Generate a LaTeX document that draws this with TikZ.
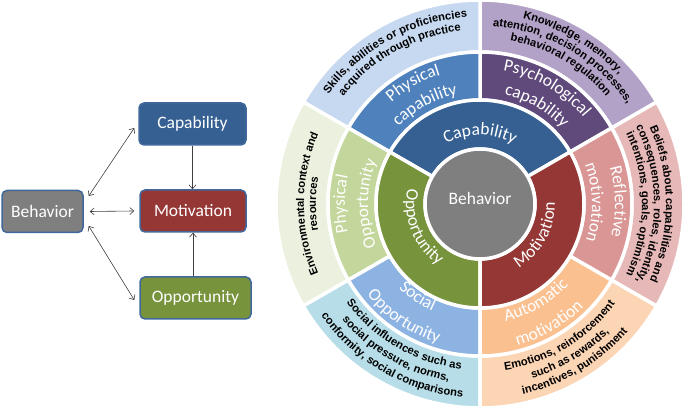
\documentclass[tikz,border=0pt]{standalone}
\usepackage{fontspec}
\usetikzlibrary{decorations.text,arrows.meta}
\newfontfamily\calf{Carlito}
\newfontfamily\arf{Liberation Sans}
\newcommand\lblfont{\calf\fontsize{17.5}{20}\selectfont}
\newcommand\subfont{\calf\fontsize{17.5}{20}\selectfont}
\newcommand\smallbold{\arf\bfseries\fontsize{11.2}{13}\selectfont}
\definecolor{bgray}{HTML}{7F7F7F}
\definecolor{capc}{HTML}{366092}
\definecolor{motc}{HTML}{953735}
\definecolor{oppc}{HTML}{77933C}
\definecolor{physcapc}{HTML}{4F81BD}
\definecolor{psycapc}{HTML}{604A7B}
\definecolor{reflc}{HTML}{D99694}
\definecolor{autoc}{HTML}{FAC090}
\definecolor{socoppc}{HTML}{8DB3E2}
\definecolor{physoppc}{HTML}{C3D69B}
\definecolor{skillc}{HTML}{C6D9F1}
\definecolor{knowc}{HTML}{B3A2C7}
\definecolor{belc}{HTML}{E6B9B8}
\definecolor{emoc}{HTML}{FCD5B5}
\definecolor{socinfc}{HTML}{B7DEE8}
\definecolor{envc}{HTML}{EBF1DE}
\definecolor{boxedge}{HTML}{41689C}
\definecolor{arrowc}{HTML}{3F3F3F}
\tikzset{
  box/.style={draw=boxedge, line width=1.5pt, rounded corners=5pt, text=white,
    font=\lblfont, minimum height=42pt, inner sep=0pt},
  dbl/.style={{Straight Barb[length=4pt,width=7pt]}-{Straight Barb[length=4pt,width=7pt]},
    line width=0.6pt, draw=arrowc},
  sgl/.style={-{Straight Barb[length=4pt,width=7pt]}, line width=0.6pt, draw=arrowc},
  seg/.style={draw=white, line width=3.5pt},
}
\newcommand\wseg[5]{%
  \filldraw[fill=#5, seg] (#1:#4) arc[start angle=#1, end angle=#2, radius=#4]
    -- (#2:#3) arc[start angle=#2, end angle=#1, radius=#3] -- cycle;}
\newcommand\cwtext[5]{%
  \path[decorate, decoration={text along path, text align=center, text color=#4,
    text={|#3|#5}}] (#1+85:#2) arc[start angle=#1+85, end angle=#1-85, radius=#2];}
\newcommand\ccwtext[5]{%
  \path[decorate, decoration={text along path, text align=center, text color=#4,
    text={|#3|#5}}] (#1-85:#2) arc[start angle=#1-85, end angle=#1+85, radius=#2];}
\begin{document}
\begin{tikzpicture}[x=1pt,y=1pt]
\useasboundingbox (0,0) rectangle (685,411);
% ---- left COM-B model
\node[box, fill=bgray, minimum width=81pt]  (beh) at (42.5,199.5) {Behavior};
\node[box, fill=capc,  minimum width=107pt] (cap) at (192.5,287) {Capability};
\node[box, fill=motc,  minimum width=106pt] (mot) at (193,200) {Motivation};
\node[box, fill=oppc,  minimum width=111pt] (opp) at (195.5,113) {Opportunity};
\draw[dbl] ([shift={(5,15.5)}]beh.east) -- ([shift={(-4,-4)}]cap.west);
\draw[dbl] ([xshift=6pt]beh.east) -- ([xshift=-5pt]mot.west);
\draw[dbl] ([shift={(5,-14.5)}]beh.east) -- ([shift={(-5,-2)}]opp.west);
\draw[sgl] (cap.south) -- (cap.south |- mot.north);
\draw[sgl] (mot.south |- opp.north) -- (mot.south);
% ---- wheel
\begin{scope}[shift={(480,207)}]
  % outer ring
  \wseg{30}{90}{152}{204}{knowc}
  \wseg{90}{150}{152}{204}{skillc}
  \wseg{150}{210}{152}{204}{envc}
  \wseg{210}{270}{152}{204}{socinfc}
  \wseg{270}{330}{152}{204}{emoc}
  \wseg{330}{390}{152}{204}{belc}
  % middle ring
  \wseg{30}{90}{104}{152}{psycapc}
  \wseg{90}{150}{104}{152}{physcapc}
  \wseg{150}{210}{104}{152}{physoppc}
  \wseg{210}{270}{104}{152}{socoppc}
  \wseg{270}{330}{104}{152}{autoc}
  \wseg{330}{390}{104}{152}{reflc}
  % inner ring
  \wseg{30}{150}{55}{104}{capc}
  \wseg{150}{270}{55}{104}{oppc}
  \wseg{270}{390}{55}{104}{motc}
  % centre
  \node[circle, fill=bgray, draw=white, line width=3.5pt, minimum size=110pt, inner sep=0pt] (bc) at (0,0) {};
  \node[text=white, font=\lblfont] (bt) at (0,6) {Behavior};
  % inner ring labels
  \cwtext{90}{69}{\lblfont}{white}{Capability}
  \ccwtext{-29}{75}{\lblfont}{white}{Motivation}
  \ccwtext{202}{74}{\lblfont}{white}{Opportunity}
  % middle ring labels
  \cwtext{119}{135}{\subfont}{white}{Physical}
  \cwtext{119}{112}{\subfont}{white}{capability}
  \cwtext{60}{135}{\subfont}{white}{Psychological}
  \cwtext{60}{112}{\subfont}{white}{capability}
  \cwtext{1}{135}{\subfont}{white}{Reflective}
  \cwtext{1}{112}{\subfont}{white}{motivation}
  \cwtext{180}{135}{\subfont}{white}{Physical}
  \cwtext{180}{112}{\subfont}{white}{Opportunity}
  \ccwtext{-60}{120}{\subfont}{white}{Automatic}
  \ccwtext{-60}{146}{\subfont}{white}{motivation}
  \ccwtext{236}{117}{\subfont}{white}{Social}
  \ccwtext{236}{145}{\subfont}{white}{Opportunity}
  % outer ring texts
  \cwtext{119}{187}{\smallbold}{black}{Skills, abilities or proficiencies}
  \cwtext{119}{174}{\smallbold}{black}{acquired through practice}
  \cwtext{60}{190}{\smallbold}{black}{Knowledge, memory,}
  \cwtext{60}{178}{\smallbold}{black}{attention, decision processes,}
  \cwtext{60}{166}{\smallbold}{black}{behavioral regulation}
  \cwtext{0}{186}{\smallbold}{black}{Beliefs about capabilities and}
  \cwtext{0}{174}{\smallbold}{black}{consequences, roles, identity,}
  \cwtext{0}{162}{\smallbold}{black}{intentions, goals, optimism}
  \cwtext{180}{176}{\smallbold}{black}{Environmental context and}
  \cwtext{180}{164}{\smallbold}{black}{resources}
  \ccwtext{-59}{168}{\smallbold}{black}{Emotions, reinforcement}
  \ccwtext{-59}{182}{\smallbold}{black}{such as rewards,}
  \ccwtext{-59}{195}{\smallbold}{black}{incentives, punishment}
  \ccwtext{240}{166}{\smallbold}{black}{Social influences such as}
  \ccwtext{240}{180}{\smallbold}{black}{social pressure, norms,}
  \ccwtext{240}{194}{\smallbold}{black}{conformity, social comparisons}
\end{scope}
\end{tikzpicture}
\end{document}
